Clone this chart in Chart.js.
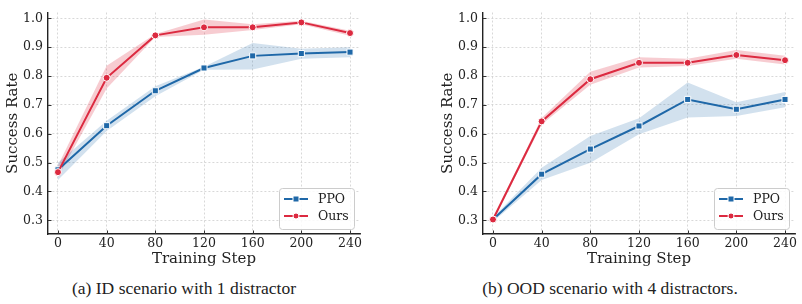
<!DOCTYPE html>
<html>
<head>
<meta charset="utf-8">
<script src="https://cdn.jsdelivr.net/npm/chart.js@4.4.1/dist/chart.umd.min.js"></script>
<style>
  html, body { margin: 0; padding: 0; background: #fff; }
  #wrap { position: relative; width: 802px; height: 304px; overflow: hidden; }
  canvas { position: absolute; top: 0; }
  .cap { position: absolute; top: 278px; font-family: "Liberation Serif", serif; font-size: 17.5px; color: #222; white-space: nowrap; transform: translateX(-50%); }
</style>
</head>
<body>
<div id="wrap">
  <canvas id="left" width="400" height="270" style="left:0"></canvas>
  <canvas id="right" width="367" height="270" style="left:435px"></canvas>
  <div class="cap" style="left:184px">(a) ID scenario with 1 distractor</div>
  <div class="cap" style="left:610px">(b) OOD scenario with 4 distractors.</div>
</div>
<script>
const steps = [0, 40, 80, 120, 160, 200, 240];
const yTicks = [0.3, 0.4, 0.5, 0.6, 0.7, 0.8, 0.9, 1.0];

// (a) ID scenario
const idPpo      = [0.475, 0.628, 0.749, 0.828, 0.870, 0.878, 0.883];
const idPpoLow   = [0.440, 0.610, 0.730, 0.822, 0.823, 0.860, 0.865];
const idPpoHigh  = [0.500, 0.645, 0.765, 0.832, 0.915, 0.895, 0.900];
const idOurs     = [0.467, 0.794, 0.941, 0.969, 0.969, 0.986, 0.949];
const idOursLow  = [0.450, 0.757, 0.935, 0.943, 0.960, 0.980, 0.940];
const idOursHigh = [0.490, 0.836, 0.946, 0.996, 0.980, 0.992, 0.957];

// (b) OOD scenario
const oodPpo      = [0.303, 0.460, 0.547, 0.627, 0.719, 0.685, 0.719];
const oodPpoLow   = [0.295, 0.440, 0.500, 0.598, 0.656, 0.662, 0.692];
const oodPpoHigh  = [0.310, 0.482, 0.592, 0.654, 0.778, 0.709, 0.745];
const oodOurs     = [0.303, 0.643, 0.789, 0.846, 0.846, 0.873, 0.855];
const oodOursLow  = [0.295, 0.632, 0.770, 0.830, 0.835, 0.860, 0.840];
const oodOursHigh = [0.310, 0.655, 0.815, 0.865, 0.860, 0.890, 0.870];

const BLUE = '#1f68a8';
const RED = '#dc2a40';
const BLUE_BAND = 'rgba(31,104,168,0.2)';
const RED_BAND = 'rgba(220,42,64,0.24)';
const SERIF = '"DejaVu Serif", serif';

const pts = vals => vals.map((v, i) => ({ x: steps[i], y: v }));

function band(vals, color, fillTarget) {
  return {
    data: pts(vals), borderWidth: 0, pointRadius: 0, backgroundColor: color,
    fill: fillTarget, order: 5, tension: 0
  };
}

function line(label, vals, color, style, r, order) {
  return {
    label: label, data: pts(vals), borderColor: color, backgroundColor: color,
    borderWidth: 2, pointStyle: style, pointRadius: r, pointBorderColor: '#fff',
    pointBorderWidth: 1, pointBackgroundColor: color, fill: false, order: order, tension: 0
  };
}

const inwardTicks = {
  id: 'inwardTicks',
  afterDraw(chart) {
    const { ctx, chartArea } = chart;
    const xs = chart.scales.x, ys = chart.scales.y;
    ctx.save();
    ctx.strokeStyle = '#333';
    ctx.lineWidth = 1;
    ctx.beginPath();
    steps.forEach(s => {
      const px = Math.round(xs.getPixelForValue(s)) + 0.5;
      ctx.moveTo(px, chartArea.bottom);
      ctx.lineTo(px, chartArea.bottom - 3.5);
    });
    yTicks.forEach(t => {
      const py = Math.round(ys.getPixelForValue(t)) + 0.5;
      ctx.moveTo(chartArea.left, py);
      ctx.lineTo(chartArea.left + 3.5, py);
    });
    ctx.stroke();
    ctx.restore();
  }
};

// legend box in the lower right corner, line + marker like matplotlib
const boxLegend = {
  id: 'boxLegend',
  afterDatasetsDraw(chart) {
    const { ctx, chartArea } = chart;
    const items = chart.data.datasets.filter(d => d.label);
    const w = 75, h = 41;
    const x0 = chartArea.right - 6 - w, y0 = chartArea.bottom - 5 - h;
    ctx.save();
    ctx.beginPath();
    ctx.roundRect(x0 + 0.5, y0 + 0.5, w, h, 3);
    ctx.fillStyle = 'rgba(255,255,255,0.85)';
    ctx.fill();
    ctx.strokeStyle = '#cccccc';
    ctx.lineWidth = 1;
    ctx.stroke();
    ctx.font = '12.5px ' + SERIF;
    ctx.textBaseline = 'middle';
    items.forEach((d, i) => {
      const cy = y0 + 11 + i * 17;
      ctx.strokeStyle = d.borderColor;
      ctx.lineWidth = 2;
      ctx.beginPath();
      ctx.moveTo(x0 + 5, cy);
      ctx.lineTo(x0 + 29, cy);
      ctx.stroke();
      ctx.fillStyle = d.borderColor;
      ctx.strokeStyle = '#fff';
      ctx.lineWidth = 1;
      ctx.beginPath();
      if (d.pointStyle === 'rect') ctx.rect(x0 + 14, cy - 3, 6, 6);
      else ctx.arc(x0 + 17, cy, 3, 0, Math.PI * 2);
      ctx.fill();
      ctx.stroke();
      ctx.fillStyle = '#222';
      ctx.fillText(d.label, x0 + 39, cy + 0.5);
    });
    ctx.restore();
  }
};

function makeChart(id, ppo, ppoLow, ppoHigh, ours, oursLow, oursHigh, padRight) {
  return new Chart(document.getElementById(id), {
    type: 'line',
    data: {
      datasets: [
        band(ppoLow, BLUE_BAND, false),
        band(ppoHigh, BLUE_BAND, 0),
        band(oursLow, RED_BAND, false),
        band(oursHigh, RED_BAND, 2),
        line('PPO', ppo, BLUE, 'rect', 4.3, 1),
        line('Ours', ours, RED, 'circle', 3.5, 0)
      ]
    },
    options: {
      responsive: false,
      animation: false,
      layout: { padding: { top: 7, right: padRight, left: 0, bottom: 0 } },
      plugins: { legend: { display: false }, tooltip: { enabled: false } },
      scales: {
        x: {
          type: 'linear', min: -8.2, max: 248.2,
          afterBuildTicks: s => { s.ticks = steps.map(v => ({ value: v })); },
          afterFit: s => { s.height = 36; },
          ticks: { color: '#222', font: { family: SERIF, size: 12.5 }, padding: 2, maxRotation: 0 },
          grid: { color: '#cfcfcf', lineWidth: 0.8, drawTicks: false },
          border: { color: '#222', width: 1.4, dash: [2, 2] },
          title: { display: true, text: 'Training Step', color: '#222',
                   font: { family: SERIF, size: 15 }, padding: { top: 0, bottom: 2 } }
        },
        y: {
          min: 0.2527, max: 1.0203,
          afterBuildTicks: s => { s.ticks = yTicks.map(v => ({ value: v })); },
          afterFit: s => { s.width = 48; },
          ticks: { color: '#222', font: { family: SERIF, size: 12.5 }, padding: 5,
                   callback: v => v.toFixed(1) },
          grid: { color: '#cfcfcf', lineWidth: 0.8, drawTicks: false },
          border: { color: '#222', width: 1.4, dash: [2, 2] },
          title: { display: true, text: 'Success Rate', color: '#222',
                   font: { family: SERIF, size: 15 }, padding: { top: 4, bottom: 0 } }
        }
      }
    },
    plugins: [inwardTicks, boxLegend]
  });
}

makeChart('left', idPpo, idPpoLow, idPpoHigh, idOurs, idOursLow, idOursHigh, 40);
makeChart('right', oodPpo, oodPpoLow, oodPpoHigh, oodOurs, oodOursLow, oodOursHigh, 7);
</script>
</body>
</html>
